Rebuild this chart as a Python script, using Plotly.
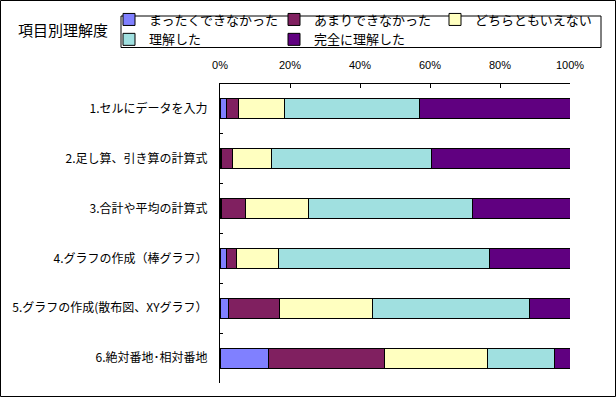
import plotly.graph_objects as go

categories = [
    "1.セルにデータを入力",
    "2.足し算、引き算の計算式",
    "3.合計や平均の計算式",
    "4.グラフの作成（棒グラフ）",
    "5.グラフの作成(散布図、XYグラフ）",
    "6.絶対番地･相対番地",
]
series_names = ["まったくできなかった", "あまりできなかった", "どちらともいえない", "理解した", "完全に理解した"]
vals_never = [1.8, 0.5, 0.5, 1.8, 2.4, 13.8]
vals_little = [3.6, 3.1, 6.9, 3.0, 14.5, 33.3]
vals_neutral = [13.1, 11.0, 17.8, 12.0, 26.6, 29.2]
vals_understood = [38.6, 45.9, 46.8, 60.3, 45.0, 19.4]
vals_full = [42.9, 39.5, 28.0, 22.9, 11.5, 4.3]
x_ticks = [0, 0.2, 0.4, 0.6, 0.8, 1.0]
title_text = "項目別理解度"

colors = ["#8080FF", "#802060", "#FFFFC0", "#A0E0E0", "#600080"]
all_vals = [vals_never, vals_little, vals_neutral, vals_understood, vals_full]
legend_ids = ["legend", "legend2", "legend3", "legend", "legend2"]

W, H = 616, 397
PX0, PX1 = 220, 570
PY0, PY1 = 84, 383


def px(x):
    return (x - PX0) / (PX1 - PX0)


def py(y):
    return (PY1 - y) / (PY1 - PY0)


JP = "Noto Sans CJK JP"

fig = go.Figure()
for name, vals, col, lg in zip(series_names, all_vals, colors, legend_ids):
    fig.add_trace(go.Bar(
        y=categories,
        x=[v / 100 for v in vals],
        name=name,
        orientation="h",
        marker=dict(color=col, line=dict(color="black", width=1)),
        legend=lg,
        hoverinfo="x+name",
    ))

legend_common = dict(
    orientation="v",
    xanchor="left",
    yanchor="top",
    bgcolor="rgba(0,0,0,0)",
    borderwidth=0,
    font=dict(family=JP, size=13, color="black"),
    traceorder="normal",
    tracegroupgap=0,
    itemwidth=30,
)

fig.update_layout(
    width=W,
    height=H,
    barmode="stack",
    bargap=0.6,
    paper_bgcolor="white",
    plot_bgcolor="white",
    margin=dict(l=PX0, r=W - PX1, t=PY0, b=H - PY1, pad=0, autoexpand=False),
    showlegend=True,
    legend=dict(x=px(109), y=py(4.5), **legend_common),
    legend2=dict(x=px(274), y=py(4.5), **legend_common),
    legend3=dict(x=px(435), y=py(4.5), **legend_common),
    xaxis=dict(
        side="top",
        range=[0, 1],
        tickvals=x_ticks,
        tickformat=".0%",
        ticks="inside",
        ticklen=4,
        tickcolor="black",
        showline=True,
        linecolor="black",
        linewidth=1,
        showgrid=False,
        zeroline=False,
        automargin=False,
        ticklabelstandoff=10,
        tickfont=dict(family="Liberation Sans", size=11, color="black"),
        fixedrange=True,
    ),
    yaxis=dict(
        type="category",
        autorange="reversed",
        ticks="inside",
        tickson="boundaries",
        ticklen=3,
        tickcolor="black",
        showline=True,
        linecolor="black",
        linewidth=1,
        showgrid=False,
        zeroline=False,
        automargin=False,
        ticklabelstandoff=9,
        tickfont=dict(family=JP, size=12, color="black"),
        fixedrange=True,
    ),
    shapes=[
        dict(type="rect", xref="paper", yref="paper",
             x0=px(0.5), x1=px(615.5), y0=py(0.5), y1=py(396.5),
             line=dict(color="black", width=1), fillcolor="rgba(0,0,0,0)", layer="above"),
        dict(type="rect", xref="paper", yref="paper",
             x0=px(121), x1=px(601), y0=py(16), y1=py(47.5),
             line=dict(color="black", width=1), fillcolor="rgba(0,0,0,0)", layer="above"),
    ],
    annotations=[
        dict(text=title_text, xref="paper", yref="paper", x=px(16), y=py(30),
             xanchor="left", yanchor="middle", showarrow=False,
             font=dict(family=JP, size=15, color="black")),
    ],
)

fig.write_html(
    "out.html",
    config={"displayModeBar": False},
    post_script="document.body.style.margin='0';document.body.style.overflow='hidden';",
)
